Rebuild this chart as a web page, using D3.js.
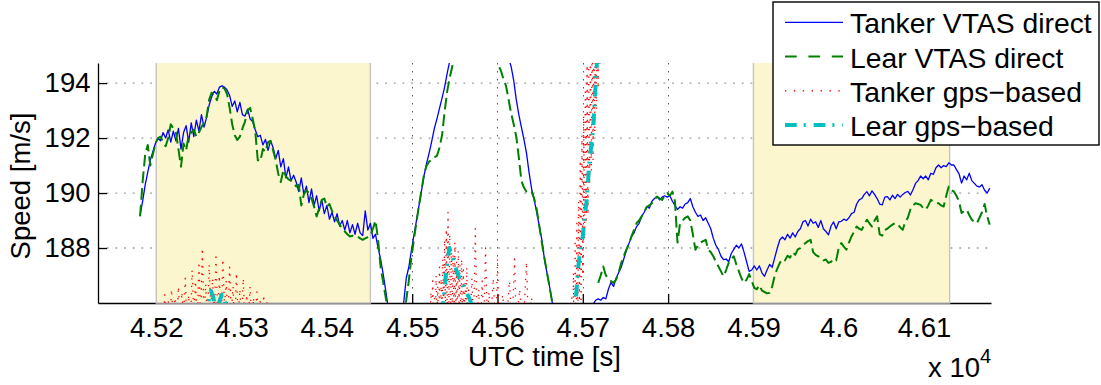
<!DOCTYPE html>
<html>
<head>
<meta charset="utf-8">
<script src="https://cdn.jsdelivr.net/npm/d3@7"></script>
<style>
  html, body { margin: 0; padding: 0; background: #fff; }
  svg { display: block; }
  text { font-family: "Liberation Sans", Arial, Helvetica, sans-serif; fill: #000; }
</style>
</head>
<body>
<svg id="chart" width="1101" height="385"></svg>
<script>
// ---------------- data ----------------
const xTicks = [45200, 45300, 45400, 45500, 45600, 45700, 45800, 45900, 46000, 46100];
const xTickLabels = ["4.52", "4.53", "4.54", "4.55", "4.56", "4.57", "4.58", "4.59", "4.6", "4.61"];
const yTicks = [188, 190, 192, 194];
const yTickLabels = ["188", "190", "192", "194"];
const xDomain = [45131.7, 46178.5];
const yDomain = [186, 194.73];

// time spans of the two highlighted legs [start, end] in UTC seconds
const shadedSpans = [[45200, 45451], [45900, 46130]];

const seriesNames = ["Tanker VTAS direct", "Lear VTAS direct", "Tanker gps\u2212based", "Lear gps\u2212based"];

// VTAS records share one sample clock (3 s)
const vtasStart = 45181, vtasEnd = 46178, vtasPeriod = 3;

const tankerVtas = [
  189.2, 189.7, 190.3, 190.75, 191.2, 191.5, 191.8, 192.0, 191.9, 192.2,
  192.0, 192.3, 191.85, 192.25, 191.9, 192.35, 191.6, 192.2, 192.45, 191.85,
  192.55, 192.05, 192.65, 192.25, 192.85, 192.4, 192.75, 193.2, 193.5, 193.7,
  193.6, 193.85, 193.9, 193.85, 193.75, 193.55, 193.15, 193.35, 192.95, 193.3,
  192.85, 192.8, 193.05, 192.7, 192.6, 192.3, 192.05, 192.1, 191.75, 191.95,
  191.55, 191.9, 191.65, 191.25, 191.55, 190.95, 191.25, 190.55, 190.95, 190.45,
  190.65, 190.4, 190.05, 190.55, 189.95, 190.25, 189.65, 190.15, 189.55, 189.9,
  189.35, 189.75, 189.25, 189.55, 189.05, 189.3, 188.95, 189.25, 188.8, 189.0,
  188.65, 189.0, 188.55, 188.85, 188.5, 188.9, 188.55, 188.45, 189.35, 188.65,
  188.9, 188.35, 188.5, 188.0, 187.6, 187.05, 186.45, 185.8, 185.3, 185.0,
  184.9, 185.1, 185.5, 186.0, 186.9, 187.3, 187.9, 188.45, 189.0, 189.55,
  190.1, 190.65, 191.1, 191.47, 191.9, 192.35, 192.7, 193.08, 193.45, 193.85,
  194.35, 194.8, 195.3, 195.8, 196.2, 196.6, 196.9, 197.1, 197.3, 197.4,
  197.5, 197.5, 197.4, 197.3, 197.2, 197.0, 196.8, 196.6, 196.4, 196.1,
  195.9, 195.6, 195.4, 195.1, 194.9, 194.6, 194.1, 193.4, 192.85, 192.4,
  191.95, 191.45, 190.75, 190.15, 189.75, 189.3, 188.8, 188.3, 187.6, 187.1,
  186.6, 186.05, 185.6, 185.3, 185.0, 184.8, 184.6, 184.5, 184.5, 184.6,
  184.7, 184.8, 185.0, 185.2, 185.4, 185.6, 185.8, 185.95, 186.1, 186.15,
  186.1, 186.2, 186.15, 186.5, 186.75, 186.6, 186.9, 187.1, 187.3, 187.6,
  187.9, 188.15, 188.4, 188.55, 188.78, 188.9, 189.15, 189.3, 189.5, 189.45,
  189.7, 189.8, 189.87, 189.75, 189.85, 189.9, 189.85, 189.9, 189.7, 189.55,
  189.4, 189.5, 189.45, 189.6, 189.65, 189.8, 189.5, 189.3, 189.15, 189.2,
  189.0, 189.1, 188.9, 188.7, 188.35, 188.1, 187.95, 187.7, 187.58, 187.6,
  187.5, 187.8, 187.95, 188.1, 188.0, 188.15, 187.85, 187.5, 187.15, 187.2,
  187.35, 187.2, 187.35, 187.1, 186.97, 187.2, 187.4, 187.3, 187.65, 188.0,
  188.3, 188.4, 188.3, 188.5, 188.36, 188.55, 188.4, 188.6, 188.7, 188.95,
  189.0, 188.8, 189.05, 188.9, 188.95, 188.75, 189.0, 188.7, 188.6, 188.48,
  188.8, 188.95, 188.7, 188.95, 188.97, 189.05, 189.0, 189.1, 189.25, 189.3,
  189.6, 189.75, 189.8, 189.95, 190.05, 189.9, 190.08, 189.95, 189.8, 189.6,
  189.57, 189.85, 189.87, 189.75, 189.92, 189.8, 189.95, 189.85, 189.95, 190.02,
  190.06, 189.93, 190.12, 190.35, 190.45, 190.62, 190.52, 190.62, 190.48, 190.72,
  190.68, 190.92, 191.02, 190.92, 191.0, 190.96, 191.1, 191.02, 191.02, 190.85,
  190.7, 190.36, 190.62, 190.48, 190.72, 190.45, 190.35, 190.25, 190.22, 190.3,
  190.1, 190.0, 190.18
];

const learVtas = [
  189.15, 190.4, 191.4, 191.75, 191.0, 191.4, 191.8, 192.0, 192.05, 191.85,
  191.7, 192.0, 192.5, 192.35, 192.2, 191.6, 190.96, 191.8, 191.55, 192.1,
  192.2, 192.3, 192.05, 192.2, 192.4, 192.55, 192.78, 193.4, 193.65, 193.6,
  193.38, 193.7, 193.85, 193.8, 193.6, 193.1, 192.5, 192.1, 191.93, 192.05,
  192.35, 192.6, 193.0, 193.1, 192.7, 192.25, 191.2, 191.15, 191.6, 191.5,
  191.85, 191.9, 191.55, 191.2, 190.7, 190.4, 190.84, 190.6, 190.5, 190.45,
  190.36, 190.24, 190.3, 189.55, 189.95, 190.1, 190.0, 189.8, 189.5, 189.15,
  189.45, 189.75, 189.8, 189.5, 189.6, 189.35, 189.15, 189.0, 188.85, 188.7,
  188.6, 188.5, 188.42, 188.45, 188.4, 188.42, 188.35, 188.3, 188.35, 188.4,
  188.45, 188.7, 189.0, 188.3, 187.3, 186.75, 186.2, 185.6, 185.2, 184.9,
  184.8, 184.9, 185.2, 185.6, 186.1, 186.8, 187.65, 188.3, 188.95, 189.55,
  190.12, 190.7, 191.0, 191.15, 191.2, 191.3, 191.35, 191.65, 192.1, 192.95,
  193.7, 194.2, 194.6, 195.0, 195.4, 195.7, 196.0, 196.2, 196.4, 196.5,
  196.6, 196.6, 196.5, 196.4, 196.2, 196.0, 195.8, 195.6, 195.4, 195.1,
  194.65, 194.45, 194.15, 193.9, 193.4, 192.9, 192.5, 192.05, 191.3, 190.45,
  190.2, 190.05, 190.0, 190.05, 189.8, 189.4, 188.8, 188.2, 187.65, 187.1,
  186.6, 186.05, 185.6, null, null, null, null, null, null, null,
  null, null, null, null, null, null, null, null, null, 186.73,
  187.0, 187.33, 187.0, 186.9, 186.8, 186.73, 186.85, 187.1, 187.45, 187.7,
  187.94, 188.15, 188.42, 188.65, 188.9, 189.0, 189.15, 189.3, 189.5, 189.55,
  189.63, 189.75, 189.87, 189.8, 189.75, 189.9, 190.0, 189.9, 190.05, 189.7,
  188.2, 188.9, 189.0, 189.1, 189.15, 189.0, 188.5, 187.94, 188.1, 188.2,
  188.25, 188.3, 187.94, 187.85, 187.7, 187.5, 187.33, 187.15, 186.97, 187.2,
  187.46, 187.6, 187.7, 187.4, 187.15, 186.9, 186.73, 186.85, 187.05, 186.8,
  186.55, 186.5, 186.65, 186.45, 186.4, 186.35, 186.37, 186.6, 187.0, 187.25,
  187.46, 187.6, 187.55, 187.72, 187.65, 187.85, 187.75, 187.95, 188.0, 188.1,
  188.18, 188.25, 188.3, 187.85, 187.75, 187.7, 187.65, 187.55, 187.58, 187.46,
  187.5, 187.6, 187.55, 188.0, 188.18, 188.05, 187.94, 188.2, 188.42, 188.6,
  188.78, 188.7, 188.66, 188.85, 189.03, 188.9, 188.78, 189.0, 189.15, 188.5,
  188.45, 188.66, 188.7, 188.78, 188.85, 188.9, 188.88, 188.75, 188.66, 188.95,
  189.1, 189.4, 189.55, 189.63, 189.6, 189.57, 189.45, 189.39, 189.55, 189.75,
  189.7, 189.65, 189.63, 189.55, 189.51, 189.9, 190.24, 190.1, 190.06, 189.9,
  189.7, 189.27, 189.35, 189.39, 189.2, 189.03, 188.95, 188.9, 189.1, 189.3,
  189.6, 189.15, 188.85
];

// GPS-derived speeds: [UTC s, m/s]; null separates recording segments
const tankerGps = [
  [45208,185.2],[45210,186.3],[45212,185.0],[45214,186.1],[45216,185.4],[45218,186.5],[45220,185.1],[45222,186.2],[45224,185.3],[45226,186.6],
  [45228,185.0],[45230,186.4],[45232,185.5],[45234,186.9],[45236,185.2],[45238,186.3],[45240,185.0],[45242,187.2],[45244,185.6],[45246,186.8],
  [45248,185.1],[45250,187.5],[45252,185.3],[45254,188.0],[45256,185.4],[45258,186.7],[45260,185.0],[45262,187.4],[45264,185.8],[45266,186.9],
  [45268,185.2],[45270,187.8],[45272,185.5],[45274,187.0],[45276,185.1],[45278,187.6],[45280,185.9],[45282,186.8],[45284,185.3],[45286,187.3],
  [45288,185.6],[45290,186.6],[45292,185.0],[45294,187.1],[45296,185.4],[45298,186.5],[45300,185.2],[45302,186.9],[45304,185.0],[45306,186.3],
  [45308,185.4],[45310,186.6],[45312,185.1],[45314,186.2],[45316,185.3],[45318,186.4],[45320,185.0],[45322,186.1],[45324,185.2],[45326,186.3],
  [45328,185.0],[45330,186.15],
  null,
  [45521,185.2],[45522,186.4],[45523,185.0],[45524,186.8],[45525,185.3],[45526,186.2],[45527,185.1],[45528,187.0],[45529,185.4],[45530,186.6],
  [45531,185.2],[45532,187.3],[45533,185.0],[45534,186.9],[45535,185.5],[45536,187.6],[45537,185.2],[45538,188.3],[45539,185.6],[45540,188.7],
  [45541,185.8],[45542,189.3],[45543,186.0],[45544,188.5],[45545,185.4],[45546,188.0],[45547,185.7],[45548,187.8],[45549,185.2],[45550,188.2],
  [45551,185.5],[45552,187.5],[45553,185.1],[45554,187.9],[45555,185.6],[45556,187.4],[45557,185.3],[45558,187.6],[45559,185.0],[45560,187.2],
  [45561,185.4],[45562,186.8],[45563,185.2],[45564,187.3],[45565,185.0],[45566,186.6],[45568,185.3],[45570,186.9],[45572,185.1],[45574,188.7],
  [45576,185.3],[45578,186.5],[45580,185.0],[45582,186.8],[45584,185.2],[45586,188.0],[45588,185.4],[45590,186.4],[45592,185.1],[45595,186.9],
  [45598,185.0],[45600,187.6],[45602,185.3],[45606,186.3],[45610,185.0],[45614,186.8],[45617,185.1],[45620,187.6],[45622,185.2],[45626,186.5],
  [45630,185.0],[45634,187.5],[45636,185.3],[45640,186.2],[45642,185.0],
  null,
  [45687,186.2],[45688,181.7],[45689,187.1],[45690,182.2],[45691,188.3],[45692,182.8],[45693,188.9],[45694,184.1],
  [45695,189.7],[45696,185.5],[45697,191.2],[45698,186.0],[45699,192.1],[45700,187.0],[45701,192.8],[45702,188.3],
  [45703,193.8],[45704,188.9],[45705,194.8],[45706,189.2],[45707,194.9],[45708,190.3],[45709,195.8],[45710,190.8],
  [45711,196.6],[45712,191.2],[45713,196.8],[45714,192.2],[45715,197.7],[45716,193.0],[45717,198.3],[45718,193.8],
  [45719,199.5],[45720,194.6],[45721,197.4]
];

const learGps = [
  [45258,185.4],[45261,186.0],[45264,186.45],[45267,186.2],[45269,185.8],[45272,185.7],[45275,186.15],[45277,186.3],[45280,186.1],[45283,185.8],[45286,185.3],
  null,
  [45532,184.6],[45536.5,186.0],[45540,187.2],[45543.5,188.0],[45547,187.7],[45550,187.33],[45553,187.1],[45556,186.85],[45559,186.7],[45562,186.49],
  [45565,186.3],[45568,186.1],[45571,185.7],[45575,185.2],
  null,
  [45689,185.2],[45692,186.19],[45694.7,187.33],[45697,187.9],[45699.9,188.42],[45702,189.1],[45704.6,189.75],[45707.6,191.09],[45709.5,191.6],
  [45711.6,192.17],[45713.5,193.02],[45715.5,194.23],[45717,195.0]
];

// ---------------- layout ----------------
const svg = d3.select("#chart");
const plot = { left: 98, right: 991, top: 63, bottom: 303 };
const FONT = 27.5;

const x = d3.scaleLinear().domain(xDomain).range([plot.left, plot.right]);
const y = d3.scaleLinear().domain(yDomain).range([plot.bottom, plot.top]);

const styles = [
  { color: "#0000ff", width: 1.3, dash: null, key: null },
  { color: "#008000", width: 2, dash: "11.7,5", key: "11.7,11.7" },
  { color: "#ff0000", width: 1.3, dash: "1.3,6.2", key: "1.3,7.6" },
  { color: "#00bfbf", width: 4, dash: "11.7,7,2,8", key: "11.7,7,2,8" }
];

svg.append("defs").append("clipPath").attr("id", "plotClip")
  .append("rect")
  .attr("x", plot.left).attr("y", plot.top)
  .attr("width", plot.right - plot.left).attr("height", plot.bottom - plot.top);

// grid
const grid = svg.append("g");
grid.selectAll("line.hgrid").data(yTicks).join("line")
  .attr("class", "hgrid")
  .attr("x1", plot.left).attr("x2", plot.right)
  .attr("y1", d => y(d)).attr("y2", d => y(d))
  .attr("stroke", "#9a9a9a").attr("stroke-width", 1.3)
  .attr("stroke-dasharray", "1.8,6.9");
grid.selectAll("line.vgrid").data(xTicks).join("line")
  .attr("class", "vgrid")
  .attr("x1", d => Math.round(x(d)) + 0.5).attr("x2", d => Math.round(x(d)) + 0.5)
  .attr("y1", plot.top).attr("y2", plot.bottom)
  .attr("stroke", "#555").attr("stroke-width", 1)
  .attr("stroke-dasharray", "1.5,6.5");

// axes (ticks point inward, no box)
const xAxis = d3.axisBottom(x).tickValues(xTicks)
  .tickFormat((d, i) => xTickLabels[i]).tickSizeInner(-9).tickSizeOuter(0).tickPadding(14);
const yAxis = d3.axisLeft(y).tickValues(yTicks)
  .tickFormat((d, i) => yTickLabels[i]).tickSizeInner(-9).tickSizeOuter(0).tickPadding(7.5);

const gx = svg.append("g").attr("transform", `translate(0,${plot.bottom})`).call(xAxis);
const gy = svg.append("g").attr("transform", `translate(${plot.left},0)`).call(yAxis);
[gx, gy].forEach(g => {
  g.select(".domain").attr("stroke", "#000").attr("stroke-width", 1.3);
  g.selectAll(".tick line").attr("stroke", "#000").attr("stroke-width", 1.3);
  g.selectAll(".tick text").attr("font-size", FONT)
    .attr("font-family", "'Liberation Sans', Arial, sans-serif").attr("fill", "#000");
});

// highlighted legs
const spans = svg.append("g");
spans.selectAll("rect").data(shadedSpans).join("rect")
  .attr("x", d => x(d[0])).attr("y", plot.top)
  .attr("width", d => x(d[1]) - x(d[0])).attr("height", plot.bottom - plot.top)
  .attr("fill", "#fcf6ce");
shadedSpans.forEach(s => {
  const x0 = x(s[0]), x1 = x(s[1]);
  spans.append("path")
    .attr("d", `M${x0},${plot.top}V${plot.bottom}H${x1}V${plot.top}`)
    .attr("fill", "none").attr("stroke", "#c4c4c4").attr("stroke-width", 1.4);
});

// series
const vtasTime = d3.range(vtasStart, vtasEnd + 1, vtasPeriod);
const tankerVtasPts = vtasTime.map((t, i) => [t, tankerVtas[i]]);
const learVtasPts = vtasTime.map((t, i) => [t, learVtas[i]]);

const line = d3.line()
  .defined(d => d != null && d[1] != null)
  .x(d => x(d[0])).y(d => y(d[1]));

const dataLayer = svg.append("g").attr("clip-path", "url(#plotClip)");
[tankerVtasPts, learVtasPts, tankerGps, learGps].forEach((pts, k) => {
  const st = styles[k];
  dataLayer.append("path")
    .attr("d", line(pts))
    .attr("fill", "none")
    .attr("stroke", st.color)
    .attr("stroke-width", st.width)
    .attr("stroke-linejoin", "round")
    .attr("stroke-dasharray", st.dash);
});

// axis titles
svg.append("text")
  .attr("x", (plot.left + plot.right) / 2).attr("y", 366)
  .attr("text-anchor", "middle").attr("font-size", FONT)
  .text("UTC time [s]");
svg.append("text")
  .attr("transform", `translate(30,${(plot.top + plot.bottom) / 2 + 3}) rotate(-90)`)
  .attr("text-anchor", "middle").attr("font-size", FONT)
  .text("Speed [m/s]");
const expo = svg.append("text").attr("x", 928).attr("y", 377).attr("font-size", FONT);
expo.append("tspan").text("x 10");
expo.append("tspan").attr("font-size", 20).attr("dy", -14).text("4");

// legend
const lg = svg.append("g");
lg.append("rect")
  .attr("x", 773).attr("y", 2).attr("width", 326).attr("height", 143)
  .attr("fill", "#fff").attr("stroke", "#000").attr("stroke-width", 1.4);
const rowY = d3.scalePoint().domain(seriesNames).range([22.3, 125]);
seriesNames.forEach((name, k) => {
  const st = styles[k];
  const cy = rowY(name);
  lg.append("line")
    .attr("x1", 785).attr("x2", 843).attr("y1", cy).attr("y2", cy)
    .attr("stroke", st.color).attr("stroke-width", st.width)
    .attr("stroke-dasharray", st.key);
  lg.append("text")
    .attr("x", 850).attr("y", cy + 11)
    .attr("font-size", 28.3)
    .text(name);
});
</script>
</body>
</html>
